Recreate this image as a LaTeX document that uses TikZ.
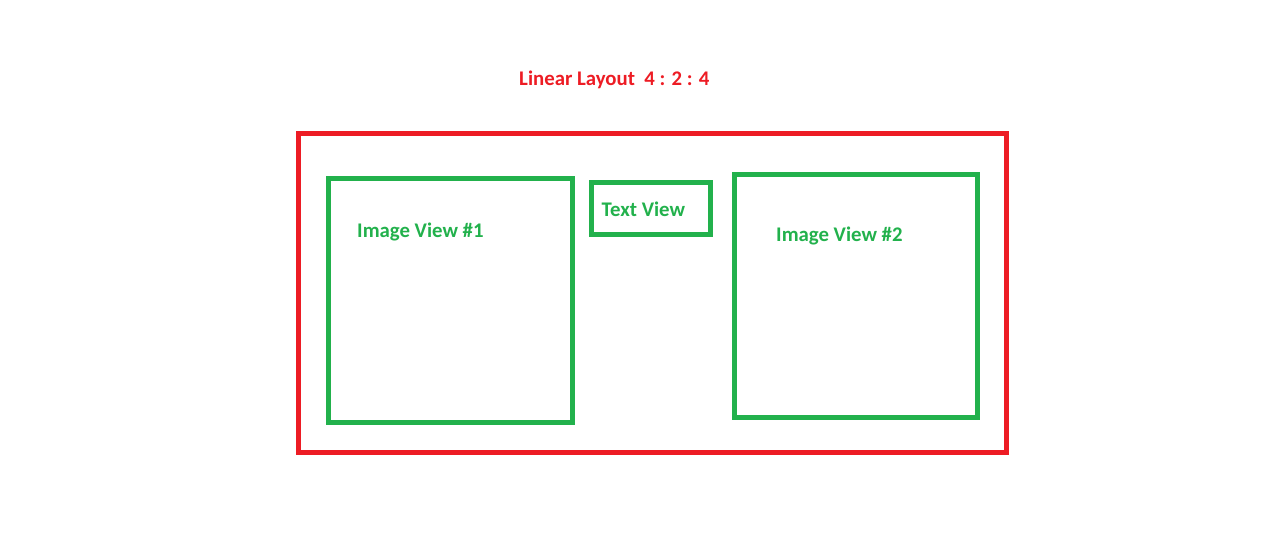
\documentclass[tikz,border=0pt]{standalone}
\usepackage{fontspec}
\setmainfont{Carlito}
\usepackage{xcolor}
\usetikzlibrary{positioning}
\definecolor{paintred}{RGB}{237,28,36}
\definecolor{paintgreen}{RGB}{34,177,76}
\tikzset{
    layoutbox/.style={rectangle, draw=paintred, line width=5pt, inner sep=0pt, outer sep=0pt, anchor=north west},
    viewbox/.style={rectangle, draw=paintgreen, line width=5pt, inner sep=0pt, outer sep=0pt, anchor=north west},
    redlabel/.style={text=paintred, font=\fontsize{20.8}{25}\selectfont\bfseries, inner sep=0pt, anchor=base west},
    greenlabel/.style={text=paintgreen, font=\fontsize{20.8}{25}\selectfont\bfseries, inner sep=0pt, anchor=base west}
}
\begin{document}
\begin{tikzpicture}[x=1pt, y=-1pt]
    \useasboundingbox (0,0) rectangle (1274,542);
    % Outer layout
    \node [layoutbox, minimum width=708pt, minimum height=319pt] (layout) at (298.5,133.5) {};
    \node [redlabel] (title) at (519,85) {Linear Layout\ \ 4 : 2 : 4};
    
    % Child views
    \node [viewbox, minimum width=244pt, minimum height=244pt] (img1) at (328.5,178.5) {};
    \node [viewbox, minimum width=119pt, minimum height=51.5pt] (txt) at (591,182.5) {};
    \node [viewbox, minimum width=243.5pt, minimum height=243.5pt] (img2) at (734,174) {};
    
    % Labels
    \node [greenlabel] (img1label) at (357,237) {Image View \#1};
    \node [greenlabel] (txtlabel) at (601.5,216.5) {Text View};
    \node [greenlabel] (img2label) at (776,241) {Image View \#2};
\end{tikzpicture}
\end{document}
